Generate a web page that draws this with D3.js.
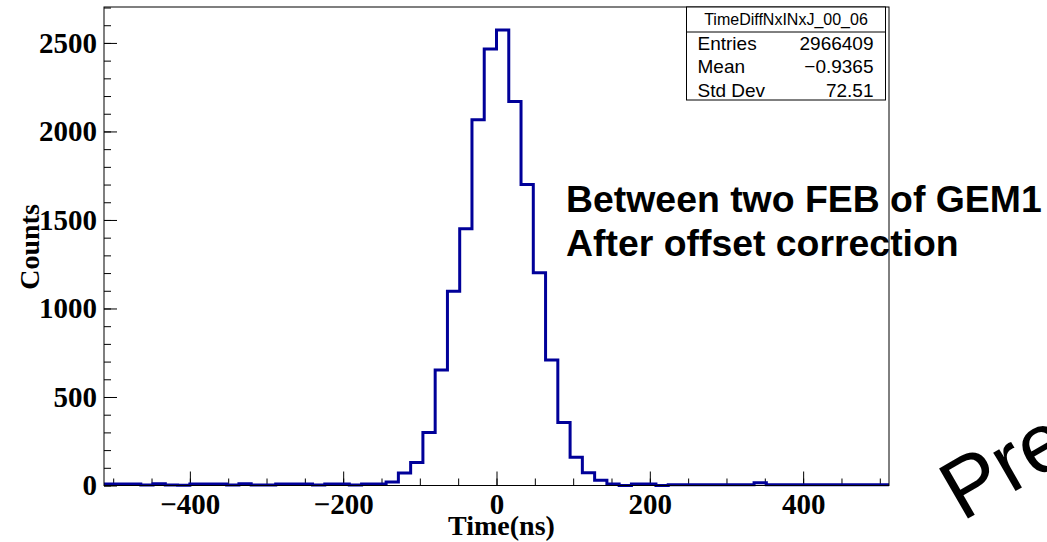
<!DOCTYPE html>
<html>
<head>
    <title>TimeDiffNxINxJ_00_06</title>
    <meta charset="utf-8">
    <style>
        body { margin: 0; background: #fff; }
        svg { display: block; }
    </style>
</head>
<body>
<script src="https://d3js.org/d3.v7.min.js"></script>
<script>
    // Histogram: 64 bins of 16 ns from -512 to 512
    const binStarts = d3.range(-512, 512, 16);
    const counts = [
        8, 8, 8, 3, 10, 3, 2, 8, 8, 8,
        3, 10, 3, 3, 8, 8, 8, 3, 8, 8,
        3, 8, 8, 20, 70, 130, 300, 653, 1098, 1450,
        2066, 2466, 2573, 2169, 1700, 1202, 709, 356, 159, 72,
        30, 8, 0, 8, 8, 0, 4, 4, 4, 4,
        4, 4, 4, 15, 4, 4, 4, 4, 4, 4,
        4, 4, 4, 4
    ];
    const xMajorTicks = [-400, -200, 0, 200, 400];
    const yMajorTicks = [0, 500, 1000, 1500, 2000, 2500];
    const statLabels = ['Entries', 'Mean', 'Std Dev'];
    const statValues = ['2966409', '\u22120.9365', '72.51'];
    const histName = 'TimeDiffNxINxJ_00_06';
    const noteLines = ['Between two FEB of GEM1', 'After offset correction'];

    const W = 1047, H = 542;
    const FRAME = {left: 104, right: 889, top: 7, bottom: 485.5};
    const LINE_COLOR = '#000099';
    const SERIF = '"Liberation Serif", "Times New Roman", serif';
    const SANS = '"Liberation Sans", Arial, sans-serif';

    const x = d3.scaleLinear().domain([-512, 512]).range([FRAME.left, FRAME.right]);
    const y = d3.scaleLinear().domain([0, 2703]).range([FRAME.bottom, FRAME.top]);

    const svg = d3.select('body').append('svg')
        .attr('width', W)
        .attr('height', H);

    svg.append('rect').attr('width', W).attr('height', H).attr('fill', '#fff');

    // minor ticks first, then major ones with labels
    const xMinor = d3.axisBottom(x).tickValues(d3.range(-500, 501, 50)).tickSize(-7).tickFormat('');
    const xMajor = d3.axisBottom(x).tickValues(xMajorTicks).tickSize(-14).tickPadding(8);
    const yMinor = d3.axisLeft(y).tickValues(d3.range(0, 2701, 100)).tickSize(-7).tickFormat('');
    const yMajor = d3.axisLeft(y).tickValues(yMajorTicks).tickSize(-13).tickPadding(7)
        .tickFormat(d3.format('d'));

    const styleAxis = g => {
        g.select('.domain').remove();
        g.selectAll('line').attr('stroke', '#000').attr('stroke-width', 1);
        g.selectAll('text')
            .attr('fill', '#000')
            .style('font-family', SERIF)
            .style('font-weight', 'bold')
            .style('font-size', '29px');
    };

    svg.append('g').attr('transform', `translate(0,${FRAME.bottom})`).call(xMinor).call(styleAxis);
    svg.append('g').attr('transform', `translate(0,${FRAME.bottom})`).call(xMajor).call(styleAxis);
    svg.append('g').attr('transform', `translate(${FRAME.left},0)`).call(yMinor).call(styleAxis);
    svg.append('g').attr('transform', `translate(${FRAME.left},0)`).call(yMajor).call(styleAxis);

    // histogram outline (step line)
    const pts = binStarts.map((b, i) => [b, counts[i]]);
    pts.push([512, counts[counts.length - 1]]);
    const step = d3.line()
        .x(d => x(d[0]))
        .y(d => y(d[1]))
        .curve(d3.curveStepAfter);
    svg.append('path')
        .datum(pts)
        .attr('d', step)
        .attr('fill', 'none')
        .attr('stroke', LINE_COLOR)
        .attr('stroke-width', 3)
        .attr('stroke-linejoin', 'miter');

    // frame
    svg.append('rect')
        .attr('x', FRAME.left)
        .attr('y', FRAME.top)
        .attr('width', FRAME.right - FRAME.left)
        .attr('height', FRAME.bottom - FRAME.top)
        .attr('fill', 'none')
        .attr('stroke', '#000')
        .attr('stroke-width', 1);

    // axis titles
    svg.append('text')
        .attr('x', (FRAME.left + FRAME.right) / 2 + 5)
        .attr('y', 535)
        .attr('text-anchor', 'middle')
        .style('font-family', SERIF)
        .style('font-weight', 'bold')
        .style('font-size', '28px')
        .text('Time(ns)');

    svg.append('text')
        .attr('transform', 'translate(39,247) rotate(-90)')
        .attr('text-anchor', 'middle')
        .style('font-family', SERIF)
        .style('font-weight', 'bold')
        .style('font-size', '28px')
        .text('Counts');

    // stats box
    const box = {x: 686.5, y: 7, w: 199, h: 93, sep: 32};
    const stats = svg.append('g');
    stats.append('rect')
        .attr('x', box.x).attr('y', box.y)
        .attr('width', box.w).attr('height', box.h)
        .attr('fill', '#fff').attr('stroke', '#000');
    stats.append('line')
        .attr('x1', box.x).attr('x2', box.x + box.w)
        .attr('y1', box.sep).attr('y2', box.sep)
        .attr('stroke', '#000');
    stats.append('text')
        .attr('x', box.x + box.w / 2)
        .attr('y', 25)
        .attr('text-anchor', 'middle')
        .style('font-family', SANS)
        .style('font-size', '16px')
        .text(histName);
    statLabels.forEach((lab, i) => {
        const by = 50 + i * 23.3;
        stats.append('text')
            .attr('x', box.x + 11).attr('y', by)
            .style('font-family', SANS).style('font-size', '19px')
            .text(lab);
        stats.append('text')
            .attr('x', box.x + box.w - 12).attr('y', by)
            .attr('text-anchor', 'end')
            .style('font-family', SANS).style('font-size', '19px')
            .text(statValues[i]);
    });

    // annotation
    noteLines.forEach((t, i) => {
        svg.append('text')
            .attr('x', 566)
            .attr('y', 212 + i * 44)
            .style('font-family', SANS)
            .style('font-weight', 'bold')
            .style('font-size', '37.4px')
            .text(t);
    });

    // watermark, cut off by the page edge
    svg.append('text')
        .attr('transform', 'translate(962,522) rotate(-30)')
        .style('font-family', SANS)
        .style('font-size', '84px')
        .text('Preliminary');
</script>
</body>
</html>
